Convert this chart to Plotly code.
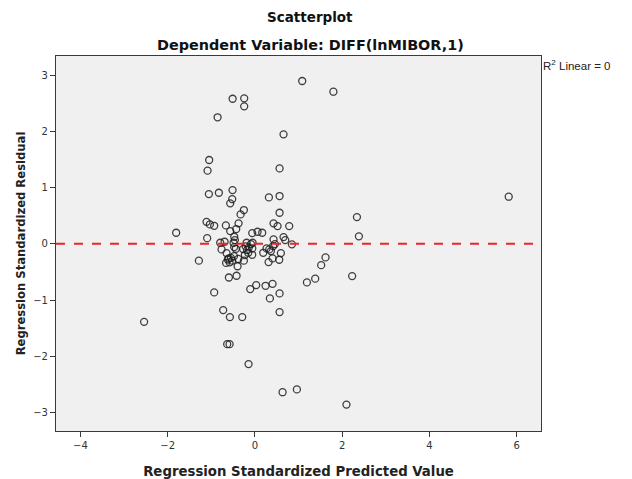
import plotly.graph_objects as go

# Regression standardized predicted values (x) and residuals (y)
predicted = [
    1.085, 1.80, -0.51, -0.245, -0.245, -0.855, 0.657, -1.048, -1.085, 0.566,
    -1.055, -0.826, -0.512, -0.52, -0.566, 0.321, 0.566, 0.566, -0.252, -0.328,
    -0.374, -0.428, -0.566, -0.665, -1.108, -1.032, -0.933, -1.805, -1.094, 0.428,
    0.52, 0.787, -0.061, 0.061, 0.168, 0.428, 0.657, 0.696, 0.849, -0.795,
    -0.695, -0.474, -0.459, -0.489, -0.19, -0.053, 5.82, 2.34, 2.385,
    -1.284, -0.933, -2.54, -0.727, -0.573, -0.29, -0.635, -0.58, -0.145, 0.635,
    0.963, -0.596, -0.42, -0.107, 0.03, 0.245, 0.405, 0.566, 0.344, 0.566,
    0.596, 0.558, 0.314, 0.405, 0.367, 0.268, 0.191, -0.061, -0.06, 1.62,
    1.52, 1.383, 1.193, 2.23, 2.10,
    -0.764, -0.65, -0.475, -0.436, -0.27, -0.18, -0.14, -0.21, -0.09, -0.23,
    -0.153, -0.60, -0.55, -0.48, -0.52, -0.58, -0.62, -0.38, -0.252, -0.397,
    0.459, 0.42, 0.33, -0.66,
]
residual = [
    2.895, 2.705, 2.58, 2.587, 2.445, 2.25, 1.947, 1.49, 1.30, 1.341,
    0.884, 0.908, 0.955, 0.795, 0.719, 0.825, 0.849, 0.552, 0.60, 0.523,
    0.363, 0.262, 0.226, 0.327, 0.39, 0.345, 0.32, 0.196, 0.10, 0.363,
    0.315, 0.315, 0.19, 0.214, 0.196, 0.078, 0.119, 0.066, -0.01, 0.018,
    0.036, 0.125, 0.066, 0.018, 0.018, 0.018, 0.837, 0.475, 0.132,
    -0.30, -0.865, -1.388, -1.18, -1.304, -1.304, -1.785, -1.785, -2.14, -2.64,
    -2.59, -0.60, -0.569, -0.806, -0.735, -0.747, -0.712, -0.883, -0.972, -1.215,
    -0.166, -0.284, -0.326, -0.26, -0.13, -0.082, -0.16, -0.196, -0.082, -0.243,
    -0.38, -0.62, -0.687, -0.575, -2.86,
    -0.10, -0.165, -0.059, -0.089, -0.094, -0.112, -0.064, -0.047, -0.005, -0.20,
    -0.16, -0.26, -0.25, -0.22, -0.30, -0.33, -0.28, -0.27, -0.30, -0.40,
    -0.005, -0.04, -0.10, -0.34,
]

x_ticks = [-4, -2, 0, 2, 4, 6]
y_ticks = [-3, -2, -1, 0, 1, 2, 3]
fit_level = 0  # R² Linear = 0 reference line

fig = go.Figure()
fig.add_trace(go.Scatter(
    x=predicted, y=residual, mode="markers",
    marker=dict(symbol="circle-open", size=7, color="rgba(30,30,30,0.85)",
                line=dict(width=1.3)),
    showlegend=False, hoverinfo="skip",
))
fig.add_hline(y=fit_level, line=dict(color="#e8262a", width=2, dash="dash"))

axis_common = dict(
    showgrid=False, zeroline=False, showline=True, mirror=True,
    linecolor="#3a3a3a", linewidth=1.2, ticks="outside", ticklen=5,
    tickcolor="#3a3a3a", tickfont=dict(family="DejaVu Sans", size=10, color="#333"),
)
fig.update_xaxes(range=[-4.56, 6.56], tickvals=x_ticks, **axis_common,
                 title=dict(text="<b>Regression Standardized Predicted Value</b>",
                            font=dict(family="DejaVu Sans", size=13.3, color="#222"),
                            standoff=16))
fig.update_yaxes(range=[-3.33, 3.34], tickvals=y_ticks, **axis_common,
                 title=dict(text="<b>Regression Standardized Residual</b>",
                            font=dict(family="DejaVu Sans", size=11.6, color="#222"),
                            standoff=5))

fig.update_layout(
    width=624, height=471,
    margin=dict(l=48, r=91, t=48, b=48, autoexpand=False),
    plot_bgcolor="#f0f0f0", paper_bgcolor="white",
    annotations=[
        dict(text="<b>Scatterplot</b>", xref="paper", yref="paper",
             x=0.524, y=1.104, xanchor="center", yanchor="middle", showarrow=False,
             font=dict(family="DejaVu Sans", size=13.5, color="#111")),
        dict(text="<b>Dependent Variable: DIFF(lnMIBOR,1)</b>", xref="paper", yref="paper",
             x=0.524, y=1.0293, xanchor="center", yanchor="middle", showarrow=False,
             font=dict(family="DejaVu Sans", size=14.4, color="#111")),
        dict(text="R<sup>2</sup> Linear = 0", xref="paper", yref="paper",
             x=1.0, y=0.976, xanchor="left", yanchor="middle", showarrow=False,
             font=dict(family="Liberation Sans", size=11.5, color="#222")),
    ],
)
fig.write_html("out.html")
